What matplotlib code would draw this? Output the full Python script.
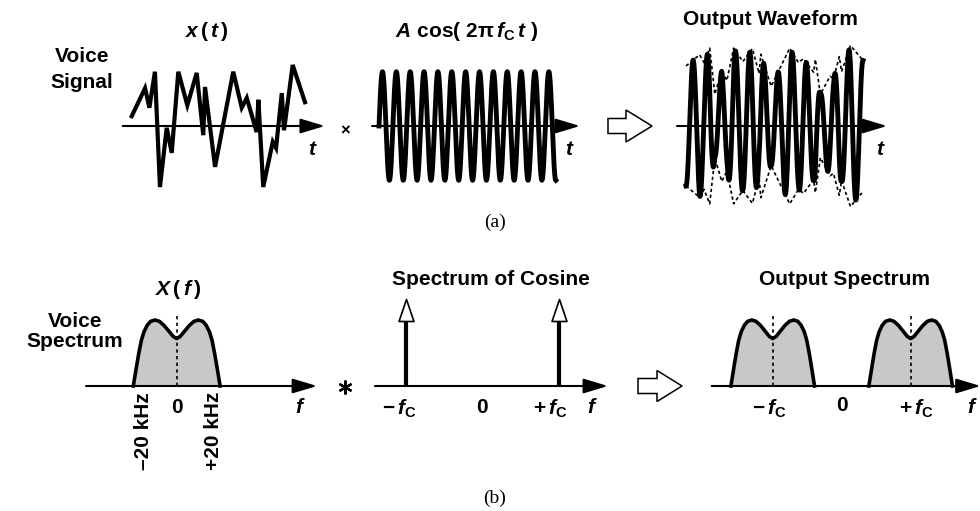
import numpy as np
import matplotlib
matplotlib.use("Agg")
import matplotlib.pyplot as plt
from matplotlib.patches import Polygon
from matplotlib.path import Path

plt.rcParams['font.family'] = ['Liberation Sans', 'DejaVu Sans']
plt.rcParams['mathtext.fontset'] = 'custom'
plt.rcParams['mathtext.rm'] = 'Liberation Sans:bold'
plt.rcParams['mathtext.it'] = 'Liberation Sans:italic:bold'
plt.rcParams['mathtext.bf'] = 'Liberation Sans:bold'
plt.rcParams['mathtext.sf'] = 'Liberation Sans:bold'

# ---------------- data ----------------
# voice signal x(t): time (arbitrary units) and normalized amplitude
voice_t = [0.0, 0.77, 1.02, 1.34, 1.63, 2.02, 2.31, 2.69, 3.21, 3.75, 4.13, 4.23, 4.81,
           5.86, 6.35, 6.64, 7.21, 7.31, 7.59, 8.14, 8.33, 8.66, 8.79, 9.29, 10.0]
voice_v = [0.16, 0.62, 0.30, 0.89, -1.0, -0.03, -0.44, 0.89, 0.34, 0.87, -0.15, 0.64, -0.67,
           0.89, 0.30, 0.46, -0.10, 0.43, -1.0, -0.26, -0.36, 0.54, -0.07, 1.0, 0.39]

carrier_freq = 1.25      # carrier cycles per time unit
carrier_amp = 0.89       # A
carrier_len = 10.2       # drawn duration of the cosine
am_offset = 0.92         # envelope = offset + depth * x(t)
am_depth = 0.40

# voice spectrum |X(f)| (kHz, normalized magnitude)
spec_f = [-20, -18.8, -17.5, -16.3, -15.1, -13.6, -12.0, -10.0, -8.0, -5.9, -3.6, -1.6, 0,
          1.6, 3.6, 5.9, 8.0, 10.0, 12.0, 13.6, 15.1, 16.3, 17.5, 18.8, 20]
spec_mag = [0, 0.24, 0.49, 0.69, 0.82, 0.92, 0.98, 1.0, 0.98, 0.92, 0.83, 0.75, 0.72,
            0.75, 0.83, 0.92, 0.98, 1.0, 0.98, 0.92, 0.82, 0.69, 0.49, 0.24, 0]
band_edges = [-20, 20]
band_labels = ['\u201320 kHz', '+20 kHz']
fc_khz = 33.0            # schematic carrier position on the frequency axis
impulse_freqs = [-fc_khz, fc_khz]
impulse_height = 1.32
center_line_height = 1.1

# ---------------- figure ----------------
W, H = 980, 511
PX2PT = 0.72
fig = plt.figure(figsize=(W / 100, H / 100), dpi=100)
canvas = fig.add_axes([0, 0, 1, 1])
canvas.set_xlim(0, W)
canvas.set_ylim(H, 0)
canvas.set_axis_off()

LBL = dict(fontsize=15, fontweight='bold', color='k')


def panel(rect_px, origin_px, scale_px):
    left, top, right, bottom = rect_px
    x0, y0 = origin_px
    sx, sy = scale_px
    ax = fig.add_axes([left / W, 1 - bottom / H, (right - left) / W, (bottom - top) / H])
    ax.set_xlim((left - x0) / sx, (right - x0) / sx)
    ax.set_ylim((y0 - bottom) / sy, (y0 - top) / sy)
    ax.set_axis_off()
    ax.patch.set_visible(False)
    return ax


def h_axis(ax, x_start, x_end):
    ax.annotate('', xy=(x_end, 0), xytext=(x_start, 0), annotation_clip=False,
                arrowprops=dict(arrowstyle='-|>,head_length=1.5,head_width=0.45',
                                lw=1.5, color='k', shrinkA=0, shrinkB=0))


def label_at(ax, x, text, dx_px=0, dy_px=12, rotation=0, va='top'):
    ax.annotate(text, xy=(x, 0), xytext=(dx_px * PX2PT, -dy_px * PX2PT),
                textcoords='offset points', ha='center', va=va, rotation=rotation,
                annotation_clip=False, **LBL)


# ---------- (a) time domain ----------
ax_v = panel((90, 30, 345, 215), (131.7, 126), (17.33, 61))
ax_v.plot(voice_t, voice_v, color='k', lw=3, solid_joinstyle='miter')
h_axis(ax_v, -0.52, 11.15)
label_at(ax_v, 11.15, r'$t$', dx_px=-12, dy_px=14)

ax_c = panel((360, 30, 600, 215), (379, 126), (17.33, 61))
t_c = np.linspace(0, carrier_len, 2000)
ax_c.plot(t_c, carrier_amp * np.cos(2 * np.pi * (carrier_freq * t_c - 0.25)), color='k', lw=3.5)
h_axis(ax_c, -0.4, 11.6)
label_at(ax_c, 11.6, r'$t$', dx_px=-10, dy_px=14)

ax_o = panel((660, 30, 910, 215), (686, 126), (17.7, 61))
t_o = np.linspace(0, voice_t[-1], 2000)
env = am_offset + am_depth * np.interp(t_o, voice_t, voice_v)
ax_o.plot(t_o, env * np.cos(2 * np.pi * (carrier_freq * t_o + 0.5)), color='k', lw=3.5)
env_pts = am_offset + am_depth * np.array(voice_v)
ax_o.plot(voice_t, env_pts, color='k', lw=1.2, ls=(0, (2, 1.6)))
ax_o.plot(voice_t, -env_pts, color='k', lw=1.2, ls=(0, (2, 1.6)))
h_axis(ax_o, -0.51, 11.36)
label_at(ax_o, 11.36, r'$t$', dx_px=-6, dy_px=14)

# ---------- (b) frequency domain ----------
ax_s = panel((60, 290, 330, 480), (176.7, 386), (2.17, 66))
ax_s.fill_between(spec_f, spec_mag, 0, color='#c8c8c8', lw=0)
ax_s.plot(spec_f, spec_mag, color='k', lw=2.6)
ax_s.plot([0, 0], [0, center_line_height], color='k', lw=1.2, ls=(0, (2, 2)))
h_axis(ax_s, -41.8, 64.7)
label_at(ax_s, 0, '0')
label_at(ax_s, band_edges[0], band_labels[0], dx_px=10, dy_px=6, rotation=90)
label_at(ax_s, band_edges[1], band_labels[1], dx_px=-7, dy_px=6, rotation=90)
label_at(ax_s, 64.7, r'$f$', dx_px=-17, dy_px=12)

head_px = 22
head_marker = Path([(-0.34, -0.5), (0.34, -0.5), (0, 0.5), (-0.34, -0.5)],
                   [Path.MOVETO, Path.LINETO, Path.LINETO, Path.CLOSEPOLY])
ax_k = panel((360, 270, 620, 440), (482.3, 386), (2.324, 66))
head_h = head_px / 66
for f in impulse_freqs:
    ax_k.plot([f, f], [0, impulse_height - head_h], color='k', lw=3, solid_capstyle='butt')
    ax_k.plot([f], [impulse_height - head_h / 2], marker=head_marker, ms=head_px * PX2PT,
              mfc='white', mec='k', mew=1.2, ls='none')
h_axis(ax_k, -46.2, 54.1)
label_at(ax_k, -fc_khz, r'$-\,f_{\mathrm{C}}$', dx_px=-6)
label_at(ax_k, 0, '0')
label_at(ax_k, fc_khz, r'$+\,f_{\mathrm{C}}$', dx_px=-9)
label_at(ax_k, 54.1, r'$f$', dx_px=-16)

ax_out = panel((690, 270, 980, 440), (841.7, 386), (2.09, 66))
for fcen in impulse_freqs:
    ax_out.fill_between(np.array(spec_f) + fcen, spec_mag, 0, color='#c8c8c8', lw=0)
    ax_out.plot(np.array(spec_f) + fcen, spec_mag, color='k', lw=2.6)
    ax_out.plot([fcen, fcen], [0, center_line_height], color='k', lw=1.2, ls=(0, (2, 2)))
h_axis(ax_out, -62.2, 66.5)
label_at(ax_out, -fc_khz, r'$-\,f_{\mathrm{C}}$', dx_px=-4)
label_at(ax_out, 0, '0', dy_px=10)
label_at(ax_out, fc_khz, r'$+\,f_{\mathrm{C}}$', dx_px=6)
label_at(ax_out, 66.5, r'$f$', dx_px=-8)

# ---------- titles, labels, operators ----------
canvas.text(82, 62, 'Voice', ha='center', va='baseline', **LBL)
canvas.text(82, 88, 'Signal', ha='center', va='baseline', **LBL)
canvas.text(207, 37, r'$x\,(\,t\,)$', ha='center', va='baseline', **LBL)
canvas.text(467, 37, r'$A\ \mathrm{cos(}\ \mathrm{2π}\,f_{\mathrm{C}}\,t\ )$', ha='center',
            va='baseline', **LBL)
canvas.text(770, 25, 'Output Waveform', ha='center', va='baseline', **LBL)
canvas.text(345, 131, '\u00d7', ha='center', va='center', fontsize=12, fontweight='bold')

canvas.text(75, 327, 'Voice', ha='center', va='baseline', **LBL)
canvas.text(75, 347, 'Spectrum', ha='center', va='baseline', **LBL)
canvas.text(178, 295, r'$X\,(\,f\,)$', ha='center', va='baseline', **LBL)
canvas.text(491, 285, 'Spectrum of Cosine', ha='center', va='baseline', **LBL)
canvas.text(844, 285, 'Output Spectrum', ha='center', va='baseline', **LBL)
canvas.plot([345], [387], marker=(6, 2, 0), ms=10, mew=1.6, color='k')

canvas.text(495, 222, '(a)', ha='center', va='center', fontsize=14, family='Liberation Serif')
canvas.text(495, 498, '(b)', ha='center', va='center', fontsize=14, family='Liberation Serif')

# hollow "yields" arrows
for (x_tail, x_base, x_tip, cy, bh, hh) in [(608, 626, 652, 126, 7.5, 16), (638, 657, 682, 386, 7.5, 15.5)]:
    canvas.add_patch(Polygon([(x_tail, cy - bh), (x_base, cy - bh), (x_base, cy - hh), (x_tip, cy),
                              (x_base, cy + hh), (x_base, cy + bh), (x_tail, cy + bh)],
                             closed=True, fc='white', ec='k', lw=1.1))

fig.savefig('out.png', dpi=100)
